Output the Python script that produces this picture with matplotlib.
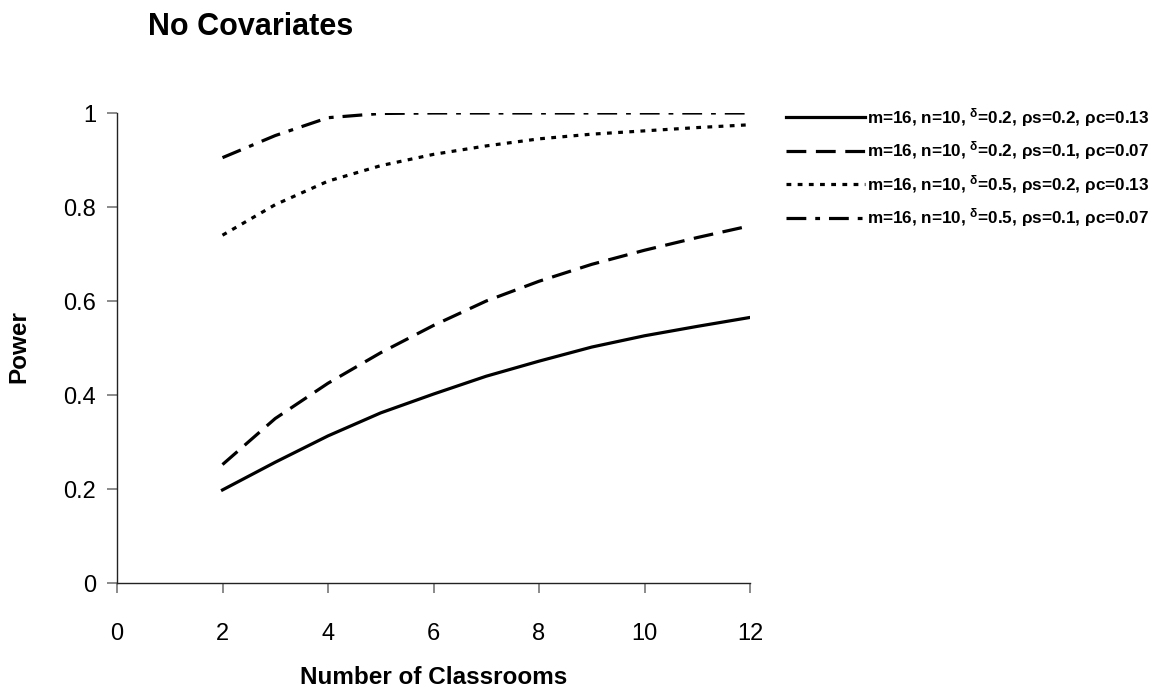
import matplotlib
matplotlib.use("Agg")
import matplotlib.pyplot as plt

plt.rcParams['font.family'] = ['Liberation Sans', 'DejaVu Sans']
plt.rcParams['mathtext.fontset'] = 'custom'
plt.rcParams['mathtext.rm'] = 'Liberation Sans:bold'
plt.rcParams['mathtext.it'] = 'Liberation Sans:bold'
plt.rcParams['mathtext.bf'] = 'Liberation Sans:bold'

classrooms = [2, 3, 4, 5, 6, 7, 8, 9, 10, 11, 12]
power_d02_rs02 = [0.198, 0.257, 0.313, 0.362, 0.402, 0.440, 0.472, 0.502, 0.526, 0.546, 0.565]
power_d02_rs01 = [0.252, 0.350, 0.425, 0.490, 0.548, 0.600, 0.642, 0.678, 0.708, 0.735, 0.760]
power_d05_rs02 = [0.740, 0.805, 0.855, 0.888, 0.912, 0.930, 0.945, 0.955, 0.962, 0.969, 0.975]
power_d05_rs01 = [0.905, 0.952, 0.990, 0.999, 1.000, 1.000, 1.000, 1.000, 1.000, 1.000, 1.000]

labels = [
    r"m=16, n=10, $^{\delta}$=0.2, $\rho$s=0.2, $\rho$c=0.13",
    r"m=16, n=10, $^{\delta}$=0.2, $\rho$s=0.1, $\rho$c=0.07",
    r"m=16, n=10, $^{\delta}$=0.5, $\rho$s=0.2, $\rho$c=0.13",
    r"m=16, n=10, $^{\delta}$=0.5, $\rho$s=0.1, $\rho$c=0.07",
]
x_ticks = [0, 2, 4, 6, 8, 10, 12]
y_ticks = [0, 0.2, 0.4, 0.6, 0.8, 1]
y_tick_labels = ["0", "0.2", "0.4", "0.6", "0.8", "1"]

fig = plt.figure(figsize=(11.53, 6.94), dpi=100)
ax = fig.add_axes([117/1153, 1-583/694, (750-117)/1153, (583-113)/694])

lw = 2.3
ax.plot(classrooms, power_d02_rs02, color='black', lw=lw, linestyle='-', label=labels[0])
ax.plot(classrooms, power_d02_rs01, color='black', lw=lw, linestyle=(0, (6.2, 3.0)), label=labels[1])
ax.plot(classrooms, power_d05_rs02, color='black', lw=lw, linestyle=(0, (1.5, 2.0)), label=labels[2])
ax.plot(classrooms, power_d05_rs01, color='black', lw=lw, linestyle=(0, (6.2, 2.8, 1.5, 2.8)), label=labels[3])

ax.set_xlim(0, 12)
ax.set_ylim(0, 1)
ax.set_xticks(x_ticks)
ax.set_xticklabels([str(t) for t in x_ticks], fontsize=17)
ax.set_yticks(y_ticks)
ax.set_yticklabels(y_tick_labels, fontsize=17)
for s in ['top', 'right']:
    ax.spines[s].set_visible(False)
for s in ['left', 'bottom']:
    ax.spines[s].set_color('#222222')
    ax.spines[s].set_linewidth(1.0)
ax.tick_params(axis='both', direction='out', length=7, width=1.2, color='#777777', pad=8)
ax.tick_params(axis='x', pad=22)
ax.set_xlabel("Number of Classrooms", fontsize=17.5, fontweight='bold', va='center')
ax.xaxis.set_label_coords(0.5, -(678-583)/470)
ax.set_ylabel("Power", fontsize=17.5, fontweight='bold', va='center')
ax.yaxis.set_label_coords((19-117)/633, (583-347)/470)

fig.text(148/1153, 1-27/694, "No Covariates", fontsize=22, fontweight='bold', ha='left', va='center')

leg = fig.legend(loc='upper left', bbox_to_anchor=(786/1153, 1-106/694), frameon=False,
                 fontsize=12.3, handlelength=4.6, handletextpad=0.12, labelspacing=0.62,
                 borderpad=0, borderaxespad=0)
for t in leg.get_texts():
    t.set_fontweight('bold')

fig.savefig("out.png", dpi=100)
